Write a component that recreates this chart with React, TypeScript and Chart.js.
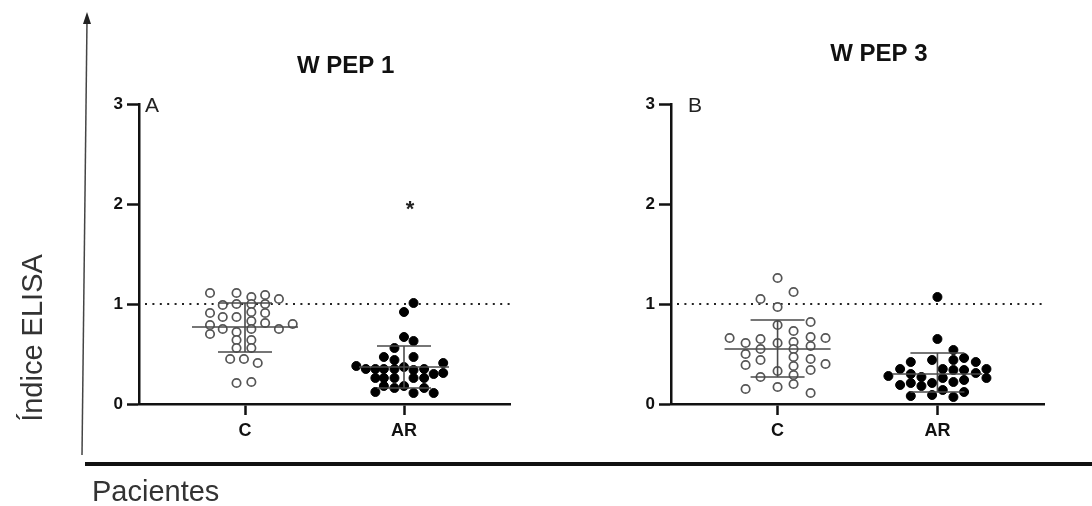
import React, { useEffect, useRef } from 'react';
import { Chart, registerables } from 'chart.js';

Chart.register(...registerables);

// ---------------- DATA ----------------
const categories = ['C', 'AR'];
const categoryX = [0, 1.5];
const yTickValues = [0, 1, 2, 3];
const panelTitles = ['W PEP 1', 'W PEP 3'];
const panelLetters = ['A', 'B'];
const thresholdValue = 1;
const yAxisTitle = 'Índice ELISA';
const xAxisTitle = 'Pacientes';

// Panel A (W PEP 1)
const pep1C = [1.11, 1.11, 1.07, 1.09, 1.05, 0.99, 1.0, 1.0, 1.0, 0.91, 0.87, 0.87, 0.92, 0.91, 0.83, 0.81, 0.79, 0.8, 0.75, 0.75, 0.72, 0.75, 0.7, 0.64, 0.64, 0.56, 0.56, 0.45, 0.45, 0.41, 0.21, 0.22];
const pep1CJitter = [-0.33, -0.08, 0.06, 0.19, 0.32, -0.21, -0.08, 0.06, 0.19, -0.33, -0.21, -0.08, 0.06, 0.19, 0.06, 0.19, -0.33, 0.45, 0.32, -0.21, -0.08, 0.06, -0.33, -0.08, 0.06, -0.08, 0.06, -0.14, -0.01, 0.12, -0.08, 0.06];
const pep1AR = [1.01, 0.92, 0.67, 0.63, 0.56, 0.47, 0.44, 0.47, 0.38, 0.35, 0.35, 0.35, 0.35, 0.37, 0.34, 0.35, 0.3, 0.41, 0.31, 0.26, 0.26, 0.26, 0.26, 0.26, 0.12, 0.16, 0.18, 0.11, 0.16, 0.11, 0.18];
const pep1ARJitter = [0.09, 0, 0, 0.09, -0.09, -0.19, -0.09, 0.09, -0.45, -0.36, -0.27, -0.19, -0.09, 0, 0.09, 0.19, 0.28, 0.37, 0.37, -0.27, -0.19, -0.09, 0.09, 0.19, -0.27, -0.09, 0, 0.09, 0.19, 0.28, -0.19];
const pep1Mean = [0.77, 0.37];
const pep1SdHigh = [1.01, 0.58];
const pep1SdLow = [0.52, 0.16];
const pep1Signif = ['', '*'];
const pep1SignifY = [0, 2.0];

// Panel B (W PEP 3)
const pep3C = [1.26, 1.12, 1.05, 0.97, 0.79, 0.82, 0.73, 0.66, 0.61, 0.65, 0.61, 0.62, 0.67, 0.58, 0.66, 0.55, 0.5, 0.55, 0.39, 0.44, 0.47, 0.45, 0.4, 0.38, 0.34, 0.33, 0.27, 0.29, 0.15, 0.17, 0.2, 0.11];
const pep3CJitter = [0, 0.15, -0.16, 0, 0, 0.31, 0.15, -0.45, -0.3, -0.16, 0, 0.15, 0.31, 0.31, 0.45, -0.16, -0.3, 0.15, -0.3, -0.16, 0.15, 0.31, 0.45, 0.15, 0.31, 0, -0.16, 0.15, -0.3, 0, 0.15, 0.31];
const pep3AR = [1.07, 0.65, 0.54, 0.42, 0.44, 0.44, 0.46, 0.42, 0.35, 0.28, 0.3, 0.27, 0.35, 0.34, 0.34, 0.31, 0.35, 0.26, 0.19, 0.21, 0.18, 0.21, 0.26, 0.22, 0.24, 0.14, 0.08, 0.09, 0.07, 0.12];
const pep3ARJitter = [0, 0, 0.15, -0.25, -0.05, 0.15, 0.25, 0.36, -0.35, -0.46, -0.25, -0.15, 0.05, 0.15, 0.25, 0.36, 0.46, 0.46, -0.35, -0.25, -0.15, -0.05, 0.05, 0.15, 0.25, 0.05, -0.25, -0.05, 0.15, 0.25];
const pep3Mean = [0.55, 0.3];
const pep3SdHigh = [0.84, 0.51];
const pep3SdLow = [0.27, 0.12];
const pep3Signif = ['', ''];
const pep3SignifY = [0, 0];

// ---------------- STYLE ----------------
const FONT = "'Liberation Sans', Arial, Helvetica, sans-serif";
const W = 1092;
const H = 506;

type PanelCfg = {
  c: number[]; cJ: number[]; ar: number[]; arJ: number[];
  mean: number[]; hi: number[]; lo: number[];
  signif: string[]; signifY: number[];
  title: string; letter: string;
  padLeft: number; padRight: number;
  titleY: number; letterDx: number;
  decorations: boolean;
};

const panels: PanelCfg[] = [
  { c: pep1C, cJ: pep1CJitter, ar: pep1AR, arJ: pep1ARJitter, mean: pep1Mean, hi: pep1SdHigh, lo: pep1SdLow,
    signif: pep1Signif, signifY: pep1SignifY, title: panelTitles[0], letter: panelLetters[0],
    padLeft: 79, padRight: W - 510, titleY: 66, letterDx: 6, decorations: true },
  { c: pep3C, cJ: pep3CJitter, ar: pep3AR, arJ: pep3ARJitter, mean: pep3Mean, hi: pep3SdHigh, lo: pep3SdLow,
    signif: pep3Signif, signifY: pep3SignifY, title: panelTitles[1], letter: panelLetters[1],
    padLeft: 611, padRight: W - 1044, titleY: 54, letterDx: 17, decorations: false },
];

function makePanelPlugin(p: PanelCfg) {
  return {
    id: 'panelExtras',
    beforeDatasetsDraw(chart: any) {
      const { ctx, chartArea, scales } = chart;
      const y = scales.y.getPixelForValue(thresholdValue);
      ctx.save();
      ctx.strokeStyle = '#222';
      ctx.lineWidth = 2;
      ctx.setLineDash([2, 5.4]);
      ctx.beginPath();
      ctx.moveTo(chartArea.left + 6, y);
      ctx.lineTo(chartArea.right, y);
      ctx.stroke();
      ctx.restore();
    },
    afterDatasetsDraw(chart: any) {
      const { ctx, chartArea, scales } = chart;
      const xs = scales.x, ys = scales.y;
      ctx.save();
      ctx.strokeStyle = '#4a4a4a';
      ctx.lineWidth = 1.6;
      categoryX.forEach((cx, i) => {
        const px = xs.getPixelForValue(cx);
        const meanHalf = i === 0 ? 53 : 45;
        const capHalf = 27;
        const pm = ys.getPixelForValue(p.mean[i]);
        const ph = ys.getPixelForValue(p.hi[i]);
        const pl = ys.getPixelForValue(p.lo[i]);
        ctx.beginPath();
        ctx.moveTo(px - meanHalf, pm); ctx.lineTo(px + meanHalf, pm);
        ctx.moveTo(px - capHalf, ph); ctx.lineTo(px + capHalf, ph);
        ctx.moveTo(px - capHalf, pl); ctx.lineTo(px + capHalf, pl);
        ctx.moveTo(px, ph); ctx.lineTo(px, pl);
        ctx.stroke();
        if (p.signif[i]) {
          ctx.fillStyle = '#222';
          ctx.font = `bold 22px ${FONT}`;
          ctx.textAlign = 'center';
          ctx.textBaseline = 'alphabetic';
          ctx.fillText(p.signif[i], px + 6, ys.getPixelForValue(p.signifY[i]) + 12);
        }
      });
      ctx.fillStyle = '#111';
      ctx.font = `bold 24px ${FONT}`;
      ctx.textAlign = 'center';
      ctx.textBaseline = 'middle';
      ctx.fillText(p.title, xs.getPixelForValue(0.95), p.titleY);
      ctx.font = `21px ${FONT}`;
      ctx.textAlign = 'left';
      ctx.fillStyle = '#222';
      ctx.fillText(p.letter, chartArea.left + p.letterDx, chartArea.top + 2);
      ctx.restore();
    },
    afterDraw(chart: any) {
      if (!p.decorations) return;
      const { ctx } = chart;
      ctx.save();
      ctx.strokeStyle = '#444';
      ctx.fillStyle = '#222';
      ctx.lineWidth = 1.5;
      ctx.beginPath();
      ctx.moveTo(82, 455);
      ctx.lineTo(87, 20);
      ctx.stroke();
      ctx.beginPath();
      ctx.moveTo(87, 12);
      ctx.lineTo(83, 24);
      ctx.lineTo(91, 24);
      ctx.closePath();
      ctx.fill();
      ctx.fillStyle = '#111';
      ctx.fillRect(85, 462, W - 85, 4);
      ctx.fillStyle = '#333';
      ctx.font = `29px ${FONT}`;
      ctx.textAlign = 'left';
      ctx.textBaseline = 'alphabetic';
      ctx.fillText(xAxisTitle, 92, 501);
      ctx.translate(42, 338);
      ctx.rotate(-Math.PI / 2);
      ctx.textAlign = 'center';
      ctx.fillText(yAxisTitle, 0, 0);
      ctx.restore();
    },
  };
}

function buildConfig(p: PanelCfg): any {
  const axisColor = '#111';
  return {
    type: 'scatter',
    data: {
      datasets: [
        {
          label: categories[0],
          data: p.c.map((v, i) => ({ x: categoryX[0] + p.cJ[i], y: v })),
          pointRadius: 4.2,
          pointBackgroundColor: '#fff',
          pointBorderColor: '#555',
          pointBorderWidth: 1.7,
          clip: false,
        },
        {
          label: categories[1],
          data: p.ar.map((v, i) => ({ x: categoryX[1] + p.arJ[i], y: v })),
          pointRadius: 4.5,
          pointBackgroundColor: '#000',
          pointBorderColor: '#000',
          pointBorderWidth: 1,
          clip: false,
        },
      ],
    },
    options: {
      responsive: false,
      animation: false,
      devicePixelRatio: 1,
      layout: { padding: { left: p.padLeft, right: p.padRight, top: 104, bottom: 52 } },
      plugins: { legend: { display: false }, tooltip: { enabled: false }, title: { display: false } },
      scales: {
        x: {
          type: 'linear',
          min: -1,
          max: 2.5,
          afterBuildTicks: (s: any) => { s.ticks = categoryX.map((v) => ({ value: v })); },
          afterFit: (s: any) => { s.height = 50; },
          ticks: {
            callback: (v: any) => { const k = categoryX.indexOf(Number(v)); return k >= 0 ? categories[k] : ''; },
            font: { family: FONT, size: 18, weight: 'bold' },
            color: '#111',
            padding: 5,
            maxRotation: 0,
          },
          grid: { display: true, drawOnChartArea: false, drawTicks: true, tickLength: 11, tickWidth: 2.5, tickColor: axisColor },
          border: { display: true, color: axisColor, width: 2.5 },
        },
        y: {
          type: 'linear',
          min: 0,
          max: 3,
          afterBuildTicks: (s: any) => { s.ticks = yTickValues.map((v) => ({ value: v })); },
          afterFit: (s: any) => { s.width = 60; },
          ticks: {
            font: { family: FONT, size: 17, weight: 'bold' },
            color: '#111',
            padding: 4,
          },
          grid: { display: true, drawOnChartArea: false, drawTicks: true, tickLength: 12, tickWidth: 2.5, tickColor: axisColor },
          border: { display: true, color: axisColor, width: 2.5 },
        },
      },
    },
    plugins: [makePanelPlugin(p)],
  };
}

function Panel({ cfg }: { cfg: PanelCfg }) {
  const ref = useRef<HTMLCanvasElement | null>(null);
  useEffect(() => {
    if (!ref.current) return;
    const chart = new Chart(ref.current, buildConfig(cfg));
    return () => chart.destroy();
  }, [cfg]);
  return (
    <canvas
      ref={ref}
      width={W}
      height={H}
      style={{ position: 'absolute', left: 0, top: 0, width: W, height: H }}
    />
  );
}

export default function App() {
  return (
    <div style={{ position: 'absolute', left: 0, top: 0, width: W, height: H, background: '#fff' }}>
      {panels.map((p, i) => (
        <Panel key={i} cfg={p} />
      ))}
    </div>
  );
}
